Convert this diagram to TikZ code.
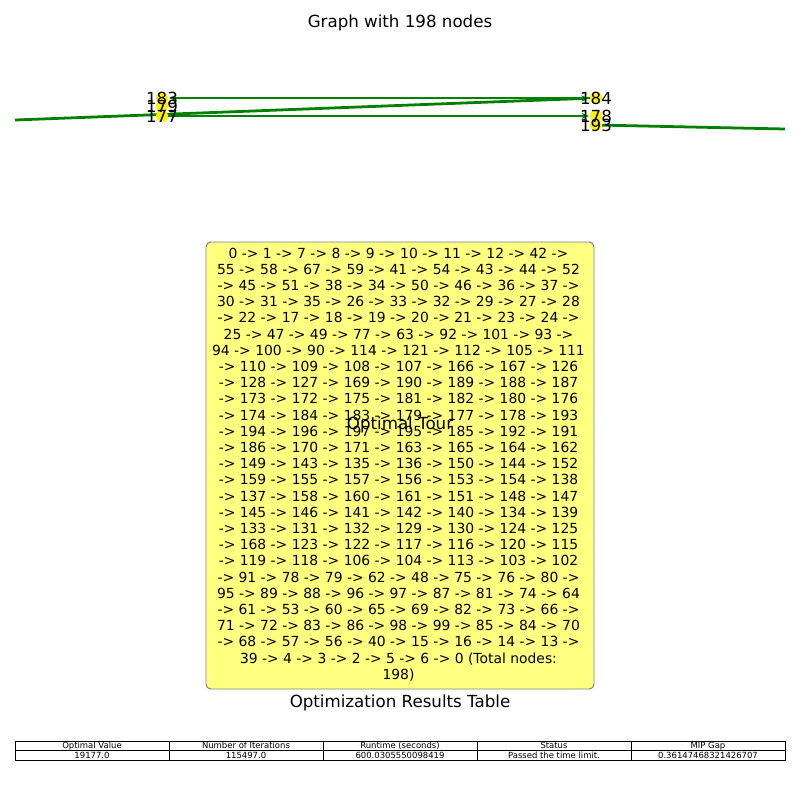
\documentclass[tikz,border=0pt]{standalone}
\usepackage{fontspec}
\setmainfont{DejaVu Sans}
\usetikzlibrary{arrows.meta}
\definecolor{edgegreen}{HTML}{008000}
\definecolor{boxfill}{HTML}{FFFF80}
\definecolor{boxedge}{HTML}{808080}
\begin{document}
\begin{tikzpicture}[x=0.72pt,y=-0.72pt,
  vert/.style={circle,fill=yellow,draw=none,inner sep=0pt,minimum size=8.6pt},
  lbl/.style={font=\fontsize{12}{14}\selectfont,inner sep=0pt},
  tedge/.style={draw=edgegreen,line width=2pt,-{Stealth[length=5.5pt,width=4.5pt]},shorten >=0.5pt},
  fedge/.style={draw=edgegreen,line width=2pt},
  heading/.style={font=\fontsize{12}{14}\selectfont,inner sep=0pt},
  cell/.style={draw=black,line width=0.6pt,minimum width=154*0.72pt,minimum height=9.5*0.72pt,inner sep=0pt,font=\fontsize{6.1}{6.5}\selectfont,anchor=center}
]
\useasboundingbox (0,0) rectangle (800,800);
\fill[white] (0,0) rectangle (800,800);

\node[heading] (title) at (400,23) {Graph with 198 nodes};

% graph nodes
\node[vert] (n183) at (162,98) {};
\node[vert] (n179) at (162,106) {};
\node[vert] (n177) at (162,116) {};
\node[vert] (n184) at (596,98) {};
\node[vert] (n178) at (596,116) {};
\node[vert] (n193) at (596,125) {};
\coordinate (c174) at (15,120);
\coordinate (c194) at (785,129);

% edges
\draw[tedge] (c174) -- (n184);
\draw[tedge] (n184) -- (n183);
\draw[tedge] (n183) -- (n179);
\draw[tedge] (n179) -- (n177);
\draw[tedge] (n177) -- (n178);
\draw[tedge] (n178) -- (n193);
\draw[fedge] (n193) -- (c194);

% redraw node discs over edges
\foreach \n in {n183,n179,n177,n184,n178,n193} \fill[yellow] (\n) circle (4.3pt);

% labels
\node[lbl] (l183) at (n183) {183};
\node[lbl] (l179) at (n179) {179};
\node[lbl] (l177) at (n177) {177};
\node[lbl] (l184) at (n184) {184};
\node[lbl] (l178) at (n178) {178};
\node[lbl] (l193) at (n193) {193};

% tour box
\draw[fill=boxfill,draw=boxedge,line width=0.7pt,rounded corners=3.5pt] (206,242) rectangle (594,689);
\node[align=center,inner sep=0pt,font=\fontsize{10}{11.66}\selectfont] (tour) at (398.5,464.5) {%
0 -> 1 -> 7 -> 8 -> 9 -> 10 -> 11 -> 12 -> 42 ->\\
55 -> 58 -> 67 -> 59 -> 41 -> 54 -> 43 -> 44 -> 52\\
-> 45 -> 51 -> 38 -> 34 -> 50 -> 46 -> 36 -> 37 ->\\
30 -> 31 -> 35 -> 26 -> 33 -> 32 -> 29 -> 27 -> 28\\
-> 22 -> 17 -> 18 -> 19 -> 20 -> 21 -> 23 -> 24 ->\\
25 -> 47 -> 49 -> 77 -> 63 -> 92 -> 101 -> 93 ->\\
94 -> 100 -> 90 -> 114 -> 121 -> 112 -> 105 -> 111\\
-> 110 -> 109 -> 108 -> 107 -> 166 -> 167 -> 126\\
-> 128 -> 127 -> 169 -> 190 -> 189 -> 188 -> 187\\
-> 173 -> 172 -> 175 -> 181 -> 182 -> 180 -> 176\\
-> 174 -> 184 -> 183 -> 179 -> 177 -> 178 -> 193\\
-> 194 -> 196 -> 197 -> 195 -> 185 -> 192 -> 191\\
-> 186 -> 170 -> 171 -> 163 -> 165 -> 164 -> 162\\
-> 149 -> 143 -> 135 -> 136 -> 150 -> 144 -> 152\\
-> 159 -> 155 -> 157 -> 156 -> 153 -> 154 -> 138\\
-> 137 -> 158 -> 160 -> 161 -> 151 -> 148 -> 147\\
-> 145 -> 146 -> 141 -> 142 -> 140 -> 134 -> 139\\
-> 133 -> 131 -> 132 -> 129 -> 130 -> 124 -> 125\\
-> 168 -> 123 -> 122 -> 117 -> 116 -> 120 -> 115\\
-> 119 -> 118 -> 106 -> 104 -> 113 -> 103 -> 102\\
-> 91 -> 78 -> 79 -> 62 -> 48 -> 75 -> 76 -> 80 ->\\
95 -> 89 -> 88 -> 96 -> 97 -> 87 -> 81 -> 74 -> 64\\
-> 61 -> 53 -> 60 -> 65 -> 69 -> 82 -> 73 -> 66 ->\\
71 -> 72 -> 83 -> 86 -> 98 -> 99 -> 85 -> 84 -> 70\\
-> 68 -> 57 -> 56 -> 40 -> 15 -> 16 -> 14 -> 13 ->\\
39 -> 4 -> 3 -> 2 -> 5 -> 6 -> 0 (Total nodes:\\
198)};

\node[heading] (tourtitle) at (400,425) {Optimal Tour};
\node[heading] (tabletitle) at (400,703) {Optimization Results Table};

% table
\node[cell] (h1) at (92,745.75) {Optimal Value};
\node[cell] (h2) at (246,745.75) {Number of Iterations};
\node[cell] (h3) at (400,745.75) {Runtime (seconds)};
\node[cell] (h4) at (554,745.75) {Status};
\node[cell] (h5) at (708,745.75) {MIP Gap};
\node[cell] (v1) at (92,755.25) {19177.0};
\node[cell] (v2) at (246,755.25) {115497.0};
\node[cell] (v3) at (400,755.25) {600.0305550098419};
\node[cell] (v4) at (554,755.25) {Passed the time limit.};
\node[cell] (v5) at (708,755.25) {0.36147468321426707};
\end{tikzpicture}
\end{document}
